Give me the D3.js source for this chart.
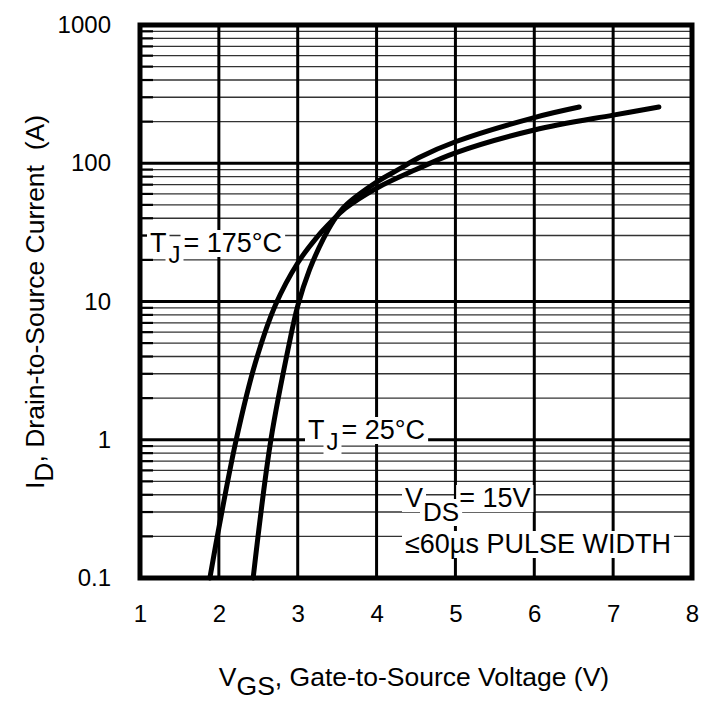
<!DOCTYPE html>
<html>
<head>
<meta charset="utf-8">
<script src="https://cdn.jsdelivr.net/npm/d3@7"></script>
<style>
  body { margin: 0; background: #fff; }
  text { font-family: "Liberation Sans", Arial, Helvetica, sans-serif; fill: #000; }
</style>
</head>
<body>
<div id="chart"></div>
<script>
// Transfer characteristics
const vgs175 = [1.886, 2.0, 2.22, 2.46, 2.72, 3.0, 3.24, 3.43, 3.6, 4.0, 4.5, 5.0, 6.0, 7.0, 7.58];
const id175  = [0.1, 0.23, 1.0, 3.56, 9.5, 19, 29, 38, 47, 66, 90, 119, 174, 223, 255];

const vgs25 = [2.435, 2.66, 2.90, 3.0, 3.15, 3.32, 3.45, 3.6, 4.0, 4.29, 4.54, 5.0, 6.0, 6.57];
const id25  = [0.1, 1.0, 5.2, 9.3, 17, 28, 38, 49, 73, 91, 110, 143, 214, 255];

const xTicks = [1, 2, 3, 4, 5, 6, 7, 8];
const yTicks = [0.1, 1, 10, 100, 1000];
const yTickLabels = ["0.1", "1", "10", "100", "1000"];

const W = 716, H = 707;
const margin = { top: 25, right: 24, bottom: 129, left: 140 };

const svg = d3.select("#chart").append("svg")
    .attr("width", W)
    .attr("height", H);

const x = d3.scaleLinear().domain([1, 8]).range([margin.left, W - margin.right]);
const y = d3.scaleLog().domain([0.1, 1000]).range([H - margin.bottom, margin.top]);

const x0 = x.range()[0], x1 = x.range()[1];
const yb = y.range()[0], yt = y.range()[1];

// minor horizontal grid (2..9 of each decade)
const minor = [];
yTicks.slice(0, -1).forEach(d => {
    for (let k = 2; k <= 9; k++) minor.push(d * k);
});

const grid = svg.append("g");

grid.selectAll(".minor")
    .data(minor)
  .enter().append("line")
    .attr("class", "minor")
    .attr("x1", x0).attr("x2", x1)
    .attr("y1", d => y(d)).attr("y2", d => y(d))
    .attr("stroke", "#333")
    .attr("stroke-width", 1.4);

// short heavier stubs on the left edge
grid.selectAll(".stub")
    .data(minor)
  .enter().append("line")
    .attr("class", "stub")
    .attr("x1", x0).attr("x2", x0 + 13)
    .attr("y1", d => y(d)).attr("y2", d => y(d))
    .attr("stroke", "#000")
    .attr("stroke-width", 2.2);

grid.selectAll(".major-h")
    .data(yTicks)
  .enter().append("line")
    .attr("class", "major-h")
    .attr("x1", x0).attr("x2", x1)
    .attr("y1", d => y(d)).attr("y2", d => y(d))
    .attr("stroke", "#000")
    .attr("stroke-width", 3);

grid.selectAll(".major-v")
    .data(xTicks)
  .enter().append("line")
    .attr("class", "major-v")
    .attr("x1", d => x(d)).attr("x2", d => x(d))
    .attr("y1", yt).attr("y2", yb)
    .attr("stroke", "#000")
    .attr("stroke-width", 3);

// axes: labels only
const xAxis = svg.append("g")
    .attr("transform", "translate(0," + yb + ")")
    .call(d3.axisBottom(x).tickValues(xTicks).tickSize(0).tickPadding(27).tickFormat(d3.format("d")));
xAxis.select(".domain").remove();
xAxis.selectAll("text")
    .attr("font-size", 24)
    .attr("font-family", null);

const yAxis = svg.append("g")
    .attr("transform", "translate(" + x0 + ",0)")
    .call(d3.axisLeft(y).tickValues(yTicks).tickSize(0).tickPadding(29)
        .tickFormat((d, i) => yTickLabels[i]));
yAxis.select(".domain").remove();
yAxis.selectAll("text")
    .attr("font-size", 24)
    .attr("font-family", null);

// labels with white boxes behind each run of text
function label(lx, ly, parts) {
    const g = svg.append("g");
    let cx = lx;
    parts.forEach(p => {
        cx += p.gap || 0;
        const t = g.append("text")
            .attr("x", cx)
            .attr("y", ly + (p.dy || 0))
            .attr("font-size", p.size)
            .text(p.t);
        const b = t.node().getBBox();
        g.insert("rect", "text")
            .attr("x", b.x - 3)
            .attr("y", b.y + 2)
            .attr("width", b.width + 6)
            .attr("height", b.height - 3)
            .attr("fill", "#fff");
        cx += t.node().getComputedTextLength();
    });
}

label(150, 252, [
    { t: "T", size: 27 },
    { t: "J", size: 24, dy: 11, gap: 2 },
    { t: " = 175°C", size: 27, gap: 3 }
]);

label(308, 439, [
    { t: "T", size: 27 },
    { t: "J", size: 24, dy: 11, gap: 2 },
    { t: " = 25°C", size: 27, gap: 3 }
]);

label(405, 507, [
    { t: "V", size: 27 },
    { t: "DS", size: 26, dy: 14 },
    { t: " = 15V", size: 27 }
]);

label(405, 553, [
    { t: "≤60µs PULSE WIDTH", size: 27 }
]);

// frame
svg.append("rect")
    .attr("x", x0).attr("y", yt)
    .attr("width", x1 - x0).attr("height", yb - yt)
    .attr("fill", "none")
    .attr("stroke", "#000")
    .attr("stroke-width", 5);

// curves
const line = d3.line()
    .x(d => x(d[0]))
    .y(d => y(d[1]))
    .curve(d3.curveCatmullRom.alpha(0.5));

[[vgs175, id175], [vgs25, id25]].forEach(([vs, is]) => {
    svg.append("path")
        .datum(vs.map((v, i) => [v, is[i]]))
        .attr("fill", "none")
        .attr("stroke", "#000")
        .attr("stroke-width", 5)
        .attr("stroke-linecap", "round")
        .attr("d", line);
});

// axis titles
const xt = svg.append("text")
    .attr("x", 414)
    .attr("y", 686)
    .attr("text-anchor", "middle")
    .attr("font-size", 26.5);
xt.append("tspan").text("V");
xt.append("tspan").attr("dy", 9).text("GS");
xt.append("tspan").attr("dy", -9).text(", Gate-to-Source Voltage (V)");

const ytl = svg.append("text")
    .attr("transform", "translate(44,302) rotate(-90)")
    .attr("text-anchor", "middle")
    .attr("font-size", 26.5);
ytl.append("tspan").text("I");
ytl.append("tspan").attr("dy", 9).text("D");
ytl.append("tspan").attr("dy", -9).text(", Drain-to-Source Current\u00a0\u00a0(A)");
</script>
</body>
</html>
